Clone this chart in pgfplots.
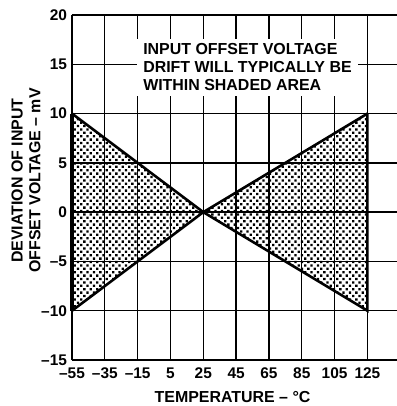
\documentclass[border=0pt]{standalone}
\usepackage{fontspec}
\setmainfont{Liberation Sans}
\usepackage{pgfplots}
\pgfplotsset{compat=1.18}
\usetikzlibrary{patterns}
\pgfdeclarepatternformonly{mydots}{\pgfqpoint{-0.5bp}{-0.5bp}}{\pgfqpoint{7bp}{7bp}}{\pgfqpoint{6.4bp}{6.8bp}}{%
  \pgfpathrectangle{\pgfqpoint{0bp}{0bp}}{\pgfqpoint{2.3bp}{2.3bp}}%
  \pgfpathrectangle{\pgfqpoint{3.2bp}{3.4bp}}{\pgfqpoint{2.3bp}{2.3bp}}\pgfusepath{fill}}
\begin{document}
\begin{tikzpicture}
\begin{axis}[
  name=ax,
  scale only axis,
  width=325bp, height=345bp,
  xmin=-55, xmax=143, ymin=-15, ymax=20,
  axis x line=box, axis y line=left,
  axis line style={-, line width=2.4pt},
  xtick={-55,-35,-15,5,25,45,65,85,105,125},
  xticklabels={--55,--35,--15,5,25,45,65,85,105,125},
  ytick={-15,-10,-5,0,5,10,15,20},
  yticklabels={--15,--10,--5,0,5,10,15,20},
  major tick length=0pt,
  grid=major,
  major grid style={black, line width=1.3pt},
  tick label style={font=\fontsize{15.5}{16}\selectfont\bfseries},
  xticklabel style={yshift=-4bp},
  yticklabel style={xshift=-1.5bp},
  xlabel={TEMPERATURE -- °C},
  ylabel={DEVIATION OF INPUT\\OFFSET VOLTAGE -- mV},
  label style={font=\fontsize{16}{18}\selectfont\bfseries, align=center},
  xlabel style={at={(axis description cs:0.494,-0.1246)}, anchor=base},
  ylabel style={at={(axis description cs:-0.1415,0.52)}, anchor=center},
  clip=false,
]
\addplot[draw=none, pattern=mydots] coordinates {(-55,10) (-55,-10) (25,0)} -- cycle;
\addplot[draw=none, pattern=mydots] coordinates {(25,0) (125,10) (125,-10)} -- cycle;
\addplot[black, line width=2.6pt] coordinates {(-55,10) (25,0) (-55,-10)};
\addplot[black, line width=2.6pt] coordinates {(125,10) (25,0) (125,-10) (125,10)};
\addplot[black, line width=3.2pt] coordinates {(-55,10) (-55,-10)};
\node[fill=white, inner xsep=6bp, inner ysep=5bp, align=left,
  font=\fontsize{16}{18}\selectfont\bfseries] at (axis cs:51.9,14.7)
  {INPUT OFFSET VOLTAGE\\DRIFT WILL TYPICALLY BE\\WITHIN SHADED AREA};
\end{axis}
\pgfresetboundingbox
\path ([xshift=-72bp,yshift=-46bp]ax.south west) rectangle ([yshift=15bp]ax.north east);
\end{tikzpicture}
\end{document}
